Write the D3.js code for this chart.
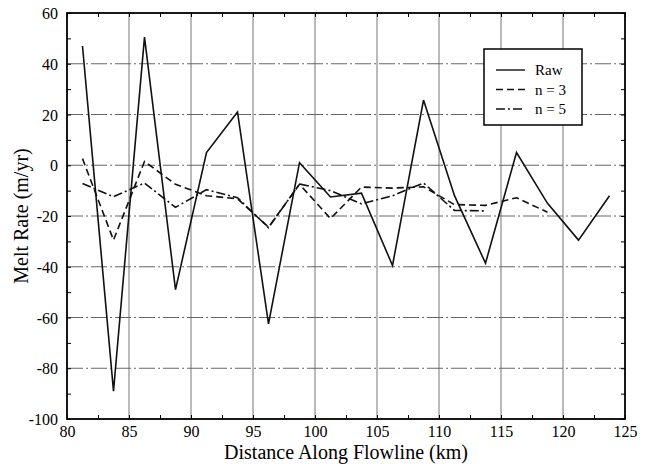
<!DOCTYPE html>
<html><head><meta charset="utf-8">
<script src="https://cdn.jsdelivr.net/npm/d3@7"></script>
<style>body{margin:0;background:#fff}svg{display:block}</style>
</head><body>
<svg id="c" width="649" height="464"></svg>
<script>
const rawX = [81.25, 83.75, 86.25, 88.75, 91.25, 93.75, 96.25, 98.75, 101.25, 103.75, 106.25, 108.75, 111.25, 113.75, 116.25, 118.75, 121.25, 123.75];
const rawY = [47, -89, 50.5, -49, 5, 21, -62.5, 1, -12.5, -11, -39.5, 25.7, -12, -38.6, 5, -15, -29.5, -12];
const n3X = [81.25, 83.75, 86.25, 88.75, 91.25, 93.75, 96.25, 98.75, 101.25, 103.75, 106.25, 108.75, 111.25, 113.75, 116.25, 118.75];
const n3Y = [2.6, -29.5, 1.5, -7.5, -12, -13.2, -24.4, -7.5, -21, -8.6, -9, -8.5, -15.5, -15.8, -12.8, -18.5];
const n5X = [81.25, 83.75, 86.25, 88.75, 91.25, 93.75, 96.25, 98.75, 101.25, 103.75, 106.25, 108.75, 111.25, 113.75];
const n5Y = [-7.2, -12.4, -7, -16.6, -9.6, -12.8, -24.6, -7.4, -10, -15.2, -12, -7, -17.8, -18];
const xTicks = [80, 85, 90, 95, 100, 105, 110, 115, 120, 125];
const yTicks = [-100, -80, -60, -40, -20, 0, 20, 40, 60];
const legendLabels = ["Raw", "n = 3", "n = 5"];

const svg = d3.select("#c");
const L = 67, R = 625, T = 13, B = 419;
const x = d3.scaleLinear().domain([80, 125]).range([L, R]);
const y = d3.scaleLinear().domain([-100, 60]).range([B, T]);
const serif = "'Liberation Serif', 'Times New Roman', serif";

// grid
const g = svg.append("g");
g.selectAll("line.v").data(xTicks.slice(1, -1)).enter().append("line")
  .attr("x1", d => x(d)).attr("x2", d => x(d)).attr("y1", T).attr("y2", B)
  .attr("stroke", "#777").attr("stroke-width", 1);
g.selectAll("line.h").data(yTicks.slice(1, -1)).enter().append("line")
  .attr("y1", d => y(d)).attr("y2", d => y(d)).attr("x1", L).attr("x2", R)
  .attr("stroke", "#666").attr("stroke-width", 1).attr("stroke-dasharray", "16,3,2,3");

// axes with minor ticks
const minorX = d3.range(80, 125.01, 2.5);
const minorY = d3.range(-100, 60.01, 10);
const axB = d3.axisBottom(x).tickValues(minorX).tickSize(-4).tickFormat(d => xTicks.includes(d) ? d : "");
const axT = d3.axisTop(x).tickValues(minorX).tickSize(-4).tickFormat("");
const axL = d3.axisLeft(y).tickValues(minorY).tickSize(-4).tickFormat(d => yTicks.includes(d) ? d : "");
const axR = d3.axisRight(y).tickValues(minorY).tickSize(-4).tickFormat("");
function style(sel) {
  sel.attr("font-family", serif).attr("font-size", 16);
  sel.select(".domain").remove();
  sel.selectAll("line").attr("stroke", "#000").attr("stroke-width", 1);
  sel.selectAll("text").attr("font-family", serif).attr("font-size", 16).attr("fill", "#000");
}
svg.append("g").attr("transform", `translate(0,${B})`).call(axB).call(style)
  .selectAll("text").attr("dy", "0").attr("y", 18);
svg.append("g").attr("transform", `translate(0,${T})`).call(axT).call(style);
svg.append("g").attr("transform", `translate(${L},0)`).call(axL).call(style)
  .selectAll("text").attr("x", -9).attr("dy", "0.35em");
svg.append("g").attr("transform", `translate(${R},0)`).call(axR).call(style);

// lines
const line = d3.line().x(d => x(d[0])).y(d => y(d[1]));
const series = [
  {xs: rawX, ys: rawY, dash: null},
  {xs: n3X, ys: n3Y, dash: "7,4"},
  {xs: n5X, ys: n5Y, dash: "9,3,2,3"}
];
series.forEach(s => {
  svg.append("path").datum(s.xs.map((v, i) => [v, s.ys[i]]))
    .attr("d", line).attr("fill", "none").attr("stroke", "#111")
    .attr("stroke-width", 1.6).attr("stroke-linejoin", "miter")
    .attr("stroke-dasharray", s.dash);
});

// frame
svg.append("rect").attr("x", L).attr("y", T).attr("width", R - L).attr("height", B - T)
  .attr("fill", "none").attr("stroke", "#000").attr("stroke-width", 1.8);

// legend
const lg = svg.append("g");
lg.append("rect").attr("x", 484).attr("y", 49).attr("width", 98).attr("height", 76)
  .attr("fill", "#fff").attr("stroke", "#000").attr("stroke-width", 1.5);
legendLabels.forEach((t, i) => {
  const yy = 70 + i * 19.5;
  lg.append("line").attr("x1", 496).attr("x2", 525).attr("y1", yy).attr("y2", yy)
    .attr("stroke", "#111").attr("stroke-width", 1.4).attr("stroke-dasharray", series[i].dash);
  lg.append("text").attr("x", 535).attr("y", yy + 5).text(t)
    .attr("font-family", serif).attr("font-size", 15).attr("fill", "#000");
});

// titles
svg.append("text").attr("x", 346).attr("y", 459).attr("text-anchor", "middle")
  .attr("font-family", serif).attr("font-size", 20).text("Distance Along Flowline (km)");
svg.append("text").attr("transform", "translate(28,216) rotate(-90)").attr("text-anchor", "middle")
  .attr("font-family", serif).attr("font-size", 20).text("Melt Rate (m/yr)");
</script>
</body></html>
